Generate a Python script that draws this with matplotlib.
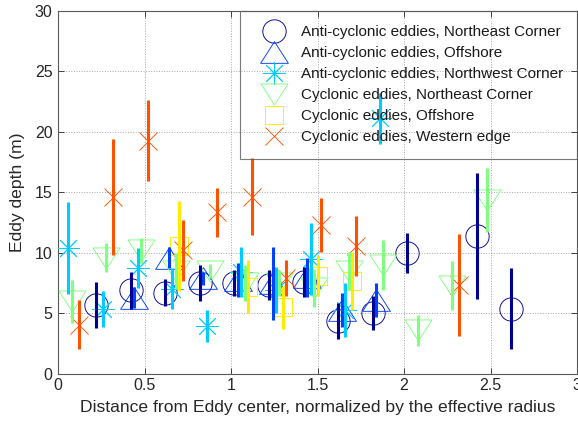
import matplotlib
matplotlib.use('Agg')
import matplotlib.pyplot as plt
from matplotlib.path import Path
import numpy as np

plt.rcParams['font.family'] = ['Liberation Sans', 'DejaVu Sans']

# ---------------- data ----------------
series_labels = [
    'Anti-cyclonic eddies, Northeast Corner',
    'Anti-cyclonic eddies, Offshore',
    'Anti-cyclonic eddies, Northwest Corner',
    'Cyclonic eddies, Northeast Corner',
    'Cyclonic eddies, Offshore',
    'Cyclonic eddies, Western edge',
]

ac_ne_x = [0.22, 0.42, 0.62, 0.82, 1.02, 1.22, 1.42, 1.62, 1.82, 2.02, 2.42, 2.62]
ac_ne_y = [5.72, 6.9, 6.72, 7.5, 7.5, 7.35, 7.62, 4.36, 5.07, 10.02, 11.43, 5.38]
ac_ne_e = [1.9, 1.5, 1.1, 1.5, 1.1, 1.25, 1.25, 1.5, 1.4, 1.65, 5.2, 3.35]

ac_off_x = [0.44, 0.64, 0.84, 1.04, 1.24, 1.44, 1.64, 1.84]
ac_off_y = [6.29, 9.59, 7.9, 7.76, 7.48, 7.97, 5.28, 6.11]
ac_off_e = [0.87, 0.87, 0.55, 1.38, 3.0, 1.6, 1.38, 1.38]

ac_nw_x = [0.06, 0.26, 0.46, 0.66, 0.86, 1.06, 1.26, 1.46, 1.66, 1.86]
ac_nw_y = [10.4, 5.34, 8.73, 7.03, 3.98, 8.42, 6.95, 9.5, 5.28, 21.1]
ac_nw_e = [3.8, 1.5, 1.65, 1.7, 1.3, 2.05, 1.9, 3.0, 2.2, 2.1]

c_ne_x = [0.08, 0.28, 0.48, 0.68, 0.88, 1.08, 1.28, 1.48, 1.68, 1.88, 2.08, 2.28, 2.48]
c_ne_y = [6.0, 9.6, 10.2, 8.5, 8.5, 7.5, 7.5, 7.1, 8.5, 9.0, 3.6, 7.3, 14.4]
c_ne_e = [1.8, 1.2, 1.05, 1.5, 0.6, 1.5, 1.1, 1.6, 1.6, 2.1, 1.3, 2.0, 2.65]

c_off_x = [0.70, 1.10, 1.30, 1.50, 1.70]
c_off_y = [10.55, 7.2, 5.5, 8.1, 7.7]
c_off_e = [3.7, 2.2, 1.8, 1.7, 2.4]

c_we_x = [0.12, 0.32, 0.52, 0.72, 0.92, 1.12, 1.32, 1.52, 1.72, 2.32]
c_we_y = [4.07, 14.6, 19.25, 10.2, 13.35, 14.64, 7.9, 12.3, 10.57, 7.35]
c_we_e = [2.03, 4.8, 3.35, 2.5, 2.05, 3.2, 1.5, 2.2, 2.5, 4.25]

x_ticks = [0, 0.5, 1, 1.5, 2, 2.5, 3]
x_ticklabels = ['0', '0.5', '1', '1.5', '2', '2.5', '3']
y_ticks = [0, 5, 10, 15, 20, 25, 30]

# ---------------- style ----------------
colors = [
    (0.0, 0.0, 0.56),
    (0.0, 0.25, 1.0),
    (0.0, 0.8, 1.0),
    (0.5, 1.0, 0.5),
    (1.0, 0.92, 0.0),
    (1.0, 0.32, 0.0),
]
tri_up = Path([(0, 0.78), (-1, -0.78), (1, -0.78), (0, 0.78)],
              [Path.MOVETO, Path.LINETO, Path.LINETO, Path.CLOSEPOLY])
tri_dn = Path([(0, -0.78), (-1, 0.78), (1, 0.78), (0, -0.78)],
              [Path.MOVETO, Path.LINETO, Path.LINETO, Path.CLOSEPOLY])
markers = ['o', tri_up, (8, 2, 0), tri_dn, 's', 'x']
msizes = [16.8, 20.0, 16.6, 19.5, 13.3, 12.7]

data = [
    (ac_ne_x, ac_ne_y, ac_ne_e),
    (ac_off_x, ac_off_y, ac_off_e),
    (ac_nw_x, ac_nw_y, ac_nw_e),
    (c_ne_x, c_ne_y, c_ne_e),
    (c_off_x, c_off_y, c_off_e),
    (c_we_x, c_we_y, c_we_e),
]

fig = plt.figure(figsize=(5.78, 4.23), dpi=100)
ax = fig.add_axes([58 / 578, 49 / 423, 519 / 578, 363.3 / 423])

handles = []
for i, (x, y, e) in enumerate(data):
    x = np.asarray(x); y = np.asarray(y); e = np.asarray(e)
    h, = ax.plot(x, y, ls='none', marker=markers[i], ms=msizes[i],
                 mfc='none', mec=colors[i], mew=0.65, zorder=3,
                 label=series_labels[i])
    ax.vlines(x, y - e, y + e, colors=[colors[i]], lw=2.2, zorder=4)
    handles.append(h)

ax.set_xlim(0, 3)
ax.set_ylim(0, 30)
ax.set_xticks(x_ticks)
ax.set_xticklabels(x_ticklabels)
ax.set_yticks(y_ticks)
ax.grid(True, ls=':', color='0.65', lw=0.7)
ax.set_axisbelow(True)
ax.tick_params(direction='in', top=True, right=True, length=4, width=0.6,
               labelsize=11.5, colors='0.15')
ax.tick_params(axis='x', pad=3)
ax.tick_params(axis='y', pad=4)
for s in ax.spines.values():
    s.set_color('0.35')
    s.set_linewidth(0.8)

ax.set_xlabel('Distance from Eddy center, normalized by the effective radius',
              fontsize=12.6, color='0.15', labelpad=5)
ax.set_ylabel('Eddy depth (m)', fontsize=12.6, color='0.15', labelpad=7)

leg = ax.legend(handles=handles, loc='upper left',
                bbox_to_anchor=(0.3507, 0.0, 0.6493, 1.0), mode='expand',
                borderaxespad=0, fontsize=11, frameon=True, fancybox=False,
                borderpad=0.95, handlelength=2.6, handletextpad=0.45,
                labelspacing=0.46, numpoints=1)
frame = leg.get_frame()
frame.set_facecolor('none')
frame.set_edgecolor('0.35')
frame.set_linewidth(0.8)
for t in leg.get_texts():
    t.set_color('0.1')

fig.savefig('out.png', dpi=100)
